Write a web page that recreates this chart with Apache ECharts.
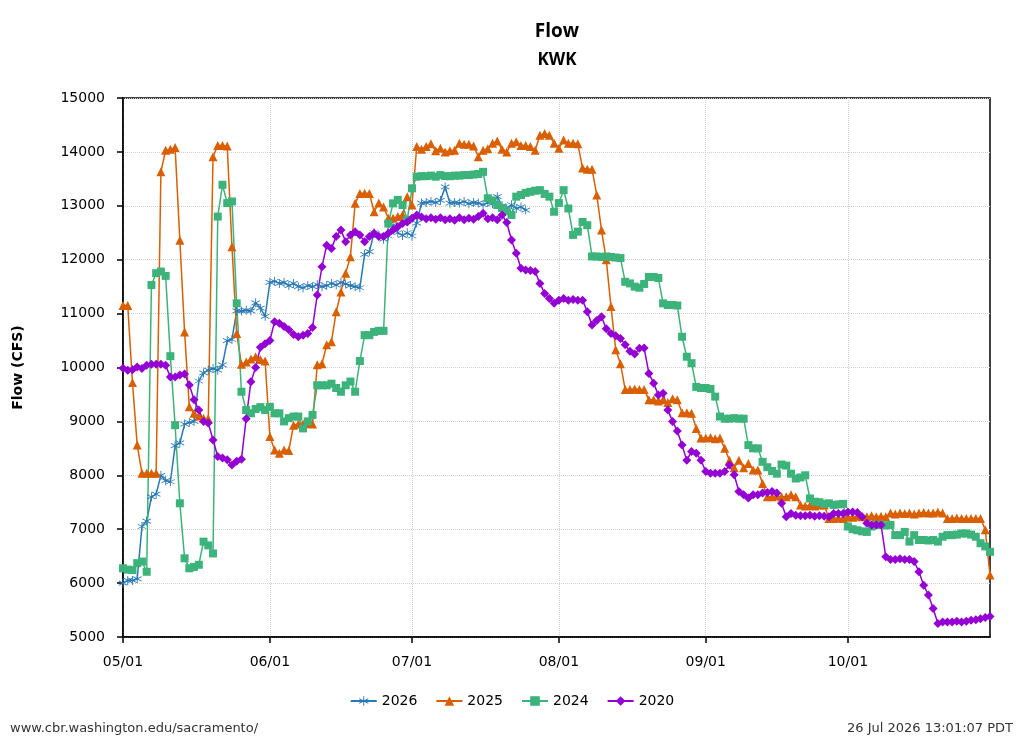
<!DOCTYPE html>
<html>
<head>
<meta charset="utf-8">
<title>Flow KWK</title>
<script src="https://cdn.jsdelivr.net/npm/echarts@6/dist/echarts.min.js"></script>
<style>
  html, body { margin: 0; padding: 0; background: #fff; }
  #chart { width: 1024px; height: 745px; }
</style>
</head>
<body>
<div id="chart"></div>
<script>
// x categories: every day 05/01 .. 10/31
var months = [5, 6, 7, 8, 9, 10];
var monthDays = [31, 30, 31, 31, 30, 31];
var monthTicks = ["05/01", "06/01", "07/01", "08/01", "09/01", "10/01"];
var yTicks = [5000, 15000, 1000]; // min, max, step

var days = [];
for (var m = 0; m < months.length; m++) {
    for (var d = 1; d <= monthDays[m]; d++) {
        days.push((months[m] < 10 ? "0" : "") + months[m] + "/" + (d < 10 ? "0" : "") + d);
    }
}

var flow2026 = [
    6000, 6050, 6050, 6080, 7050, 7150, 7600, 7650, 8000, 7900,
    7880, 8550, 8600, 8950, 8980, 9000, 9750, 9900, 9950, 9980,
    9950, 10050, 10500, 10520, 11050, 11050, 11060, 11050, 11200, 11100,
    10950, 11580, 11600, 11560, 11580, 11520, 11560, 11500, 11480, 11520,
    11500, 11540, 11500, 11520, 11560, 11530, 11580, 11550, 11520, 11500,
    11480, 12100, 12150, 12500, 12450, 12380, 12440, 12640, 12500, 12450,
    12500, 12440, 12680, 13050, 13060, 13080, 13060, 13100, 13350, 13050,
    13060, 13050, 13080, 13040, 13060, 13050, 13020, 13060, 13040, 13170,
    13000, 12950, 13020, 12950, 12980, 12920
];

var flow2025 = [
    11150, 11150, 9720, 8560, 8040, 8040, 8040, 8040, 13630, 14030,
    14050, 14080, 12360, 10660, 9270, 9150, 9100, 9060, 9050, 13910,
    14120, 14120, 14110, 12240, 10630, 10060, 10100, 10160, 10200, 10150,
    10120, 8720, 8470, 8410, 8470, 8460, 8930, 8950, 8950, 8960,
    8950, 10050, 10070, 10420, 10480, 11035, 11400, 11750, 12055, 13045,
    13230, 13235, 13230, 12890, 13050, 12980, 12770, 12770, 12800, 12830,
    13170, 13015, 14100, 14050, 14100, 14150, 14020, 14070, 14000, 14020,
    14030, 14160, 14140, 14140, 14110, 13910, 14030, 14060, 14160, 14200,
    14050, 14000, 14160, 14190, 14120, 14120, 14100, 14030, 14310, 14340,
    14310, 14160, 14070, 14220, 14160, 14160, 14150, 13700, 13680, 13680,
    13200, 12550, 12000, 11130, 10330, 10070, 9590, 9590, 9600, 9590,
    9590, 9400, 9400, 9380, 9400, 9350, 9420, 9400, 9160, 9160,
    9150, 8870, 8690, 8690, 8700, 8680, 8690, 8500, 8280, 8140,
    8280, 8140, 8220, 8100, 8100, 7850, 7600, 7600, 7620, 7600,
    7600, 7640, 7600, 7450, 7430, 7440, 7430, 7450, 7450, 7200,
    7200, 7210, 7200, 7230, 7220, 7240, 7230, 7230, 7250, 7230,
    7240, 7230, 7300, 7280, 7300, 7290, 7300, 7280, 7300, 7310,
    7300, 7300, 7320, 7300, 7200, 7200, 7210, 7200, 7200, 7200,
    7200, 7200, 6990, 6150
];

var flow2024 = [
    6275, 6250, 6240, 6370, 6400, 6210, 11530, 11750, 11780, 11700,
    10210, 8930, 7480, 6460, 6275, 6300, 6340, 6770, 6700, 6550,
    12800, 13390, 13050, 13080, 11190, 9550, 9210, 9150, 9230, 9265,
    9210, 9270, 9150, 9150, 9000, 9060, 9090, 9090, 8870, 9000,
    9120, 9670, 9670, 9670, 9700, 9620, 9550, 9670, 9740, 9550,
    10120, 10600, 10600, 10660, 10680, 10680, 12670, 13045, 13110, 13015,
    12740, 13325, 13540, 13550, 13550, 13560, 13540, 13570, 13550, 13550,
    13560, 13560, 13570, 13570, 13580, 13590, 13630, 13140, 13100, 13015,
    12960, 12900, 12830, 13170, 13200, 13240, 13260, 13280, 13290, 13220,
    13170, 12890, 13050, 13290, 12950, 12460, 12520, 12700, 12640, 12060,
    12060, 12050, 12060, 12050, 12040, 12030, 11590, 11560, 11500, 11480,
    11550, 11680, 11680, 11660, 11190, 11160, 11160, 11150, 10570, 10200,
    10080, 9640, 9620, 9620, 9600, 9460, 9090, 9050, 9050, 9060,
    9050, 9050, 8560, 8500, 8500, 8250, 8150, 8080, 8030, 8200,
    8180, 8030, 7940, 7960, 8000, 7570, 7510, 7500, 7470, 7480,
    7450, 7460, 7470, 7050, 7000, 6980, 6960, 6950, 7050, 7080,
    7080, 7070, 7080, 6890, 6890, 6950, 6770, 6890, 6800, 6800,
    6790, 6800, 6770, 6860, 6890, 6890, 6900, 6920, 6920, 6900,
    6860, 6740, 6680, 6580
];

var flow2020 = [
    9985, 9950, 9960, 10010, 9980, 10040, 10060, 10060, 10060, 10040,
    9825, 9825, 9860, 9880, 9675, 9400, 9210, 9000, 8970, 8655,
    8350, 8320, 8290, 8190, 8260, 8300, 9050, 9735, 10000, 10375,
    10440, 10500, 10850, 10820, 10760, 10700, 10610, 10570, 10600, 10630,
    10740, 11345, 11870, 12270, 12210, 12430, 12550, 12335, 12460, 12520,
    12460, 12335, 12430, 12490, 12430, 12430, 12490, 12550, 12610, 12670,
    12700, 12770, 12830, 12790, 12760, 12780, 12750, 12780, 12740, 12760,
    12730, 12780, 12740, 12770, 12750, 12800, 12860, 12760, 12780, 12740,
    12830, 12690, 12365, 12120, 11840, 11810, 11800, 11780, 11560, 11375,
    11280, 11190, 11250, 11280, 11250, 11260, 11250, 11250, 11035, 10790,
    10870, 10940, 10720, 10630, 10590, 10540, 10420, 10300, 10250, 10355,
    10360, 9890, 9710, 9490, 9520, 9210, 9000, 8820, 8560, 8280,
    8440, 8410, 8280, 8070, 8040, 8040, 8040, 8070, 8190, 8010,
    7700, 7640, 7580, 7640, 7640, 7670, 7680, 7700, 7670, 7480,
    7230, 7290, 7260, 7250, 7250, 7260, 7240, 7250, 7240, 7230,
    7290, 7290, 7290, 7320, 7320, 7310, 7230, 7110, 7080, 7080,
    7080, 6490, 6440, 6440, 6450, 6440, 6440, 6400, 6210, 5960,
    5780, 5530, 5250, 5280, 5280, 5280, 5290, 5280, 5290, 5310,
    5320, 5340, 5360, 5380
];

var seriesNames = ["2026", "2025", "2024", "2020"];

// six-armed asterisk marker
var asterisk = "path://M9.2 1L10.8 1L10.8 19L9.2 19Z" +
    "M1.81 6.19L2.61 4.81L18.19 13.81L17.39 15.19Z" +
    "M17.39 4.81L18.19 6.19L2.61 15.19L1.81 13.81Z";

var tickFont = "DejaVu Sans";
var isMonthStart = function (index, value) { return monthTicks.indexOf(value) >= 0; };

function makeSeries(name, data, color, symbol, size) {
    return {
        name: name,
        type: "line",
        data: data,
        symbol: symbol,
        symbolSize: size,
        showAllSymbol: true,
        color: color,
        lineStyle: { width: 1.5, color: color },
        itemStyle: { color: color },
        emphasis: { disabled: true }
    };
}

var chart = echarts.init(document.getElementById("chart"));
chart.setOption({
    animation: false,
    backgroundColor: "#fff",
    grid: {
        left: 123, right: 34, top: 98, bottom: 108,
        show: true, borderColor: "#000", borderWidth: 1.5
    },
    graphic: [
        { type: "text", x: 557, y: 32, style: { text: "Flow", align: "center", verticalAlign: "middle", textAlign: "center", textVerticalAlign: "middle", fontFamily: "Open Sans", fontWeight: "bold", fontSize: 19, fill: "#000" } },
        { type: "text", x: 557, y: 60, style: { text: "KWK", align: "center", verticalAlign: "middle", textAlign: "center", textVerticalAlign: "middle", fontFamily: "Open Sans", fontWeight: "bold", fontSize: 17, fill: "#000" } },
        { type: "text", x: 10, y: 729, style: { text: "www.cbr.washington.edu/sacramento/", align: "left", verticalAlign: "middle", textAlign: "left", textVerticalAlign: "middle", fontFamily: tickFont, fontSize: 13, fill: "#333" } },
        { type: "text", x: 1013, y: 729, style: { text: "26 Jul 2026 13:01:07 PDT", align: "right", verticalAlign: "middle", textAlign: "right", textVerticalAlign: "middle", fontFamily: tickFont, fontSize: 13, fill: "#333" } }
    ],
    legend: {
        data: seriesNames,
        left: "center",
        top: 689,
        itemWidth: 26,
        itemHeight: 12,
        itemGap: 18,
        textStyle: { fontFamily: tickFont, fontSize: 14, color: "#000" }
    },
    xAxis: {
        type: "category",
        data: days,
        boundaryGap: false,
        axisLine: { lineStyle: { color: "#000", width: 1.5 } },
        axisTick: { show: true, interval: isMonthStart, length: 6, lineStyle: { color: "#000", width: 1.5 } },
        axisLabel: { interval: isMonthStart, margin: 18, fontFamily: tickFont, fontSize: 14, color: "#000" },
        splitLine: { show: true, interval: isMonthStart, lineStyle: { color: "#d0d0d0", type: "dotted", width: 1 } }
    },
    yAxis: {
        type: "value",
        min: yTicks[0],
        max: yTicks[1],
        interval: yTicks[2],
        name: "Flow (CFS)",
        nameLocation: "middle",
        nameRotate: 90,
        nameGap: 98,
        nameTextStyle: { fontFamily: tickFont, fontWeight: "bold", fontSize: 14, color: "#000" },
        axisLine: { show: true, lineStyle: { color: "#000", width: 1.5 } },
        axisTick: { show: true, length: 6, lineStyle: { color: "#000", width: 1.5 } },
        axisLabel: {
            margin: 18, fontFamily: tickFont, fontSize: 14, color: "#000",
            formatter: function (v) { return String(v); }
        },
        splitLine: { show: true, lineStyle: { color: "#d0d0d0", type: "dotted", width: 1 } }
    },
    series: [
        makeSeries(seriesNames[0], flow2026, "#2878b5", asterisk, 9),
        makeSeries(seriesNames[1], flow2025, "#d95f02", "triangle", 9),
        makeSeries(seriesNames[2], flow2024, "#3bb37a", "rect", 8),
        makeSeries(seriesNames[3], flow2020, "#9400d3", "diamond", 9)
    ]
});
</script>
</body>
</html>
